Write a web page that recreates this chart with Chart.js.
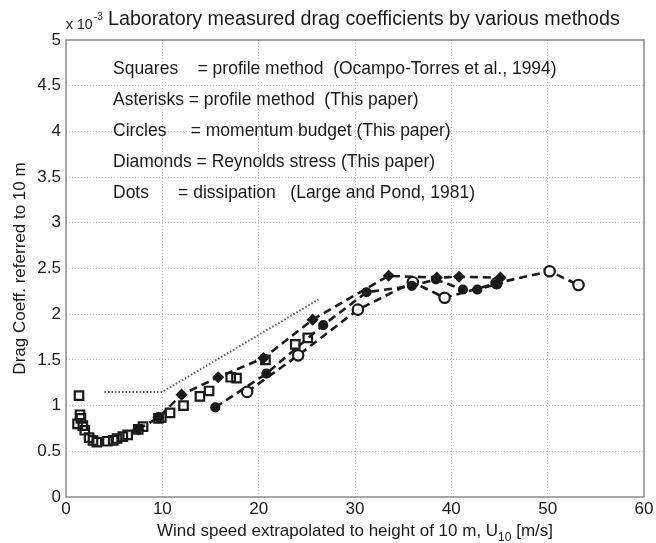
<!DOCTYPE html>
<html>
<head>
<meta charset="utf-8">
<script src="https://cdn.jsdelivr.net/npm/chart.js@4.4.1/dist/chart.umd.min.js"></script>
<style>
  html, body { margin: 0; padding: 0; background: #fff; }
  #wrap { width: 656px; height: 543px; position: relative; }
</style>
</head>
<body>
<div id="wrap"><canvas id="cd-canvas" width="656" height="543"></canvas></div>
<script>
// squares = profile method (Ocampo-Torres et al., 1994)
const squaresX = [1.35, 1.45, 1.55, 1.2, 1.75, 1.95, 2.4, 2.8, 3.2, 4.3, 4.9, 5.3, 5.9, 6.4, 7.5, 8.0, 9.6, 9.9, 10.8, 12.2, 13.9, 14.85, 17.1, 17.7, 20.7, 23.8, 25.1];
const squaresY = [1.11, 0.90, 0.86, 0.80, 0.78, 0.73, 0.65, 0.62, 0.60, 0.61, 0.62, 0.64, 0.66, 0.68, 0.74, 0.77, 0.86, 0.87, 0.92, 1.00, 1.10, 1.16, 1.31, 1.30, 1.50, 1.67, 1.74];
// asterisks = profile method (this paper)
const asteriskX = [7.5, 9.6, 12.0, 15.8, 20.5, 25.6, 33.5, 38.5, 40.8, 45.1];
const asteriskY = [0.74, 0.87, 1.12, 1.31, 1.52, 1.94, 2.42, 2.40, 2.41, 2.40];
// diamonds = reynolds stress
const diamondX = [15.5, 20.8, 26.7, 31.2, 35.9, 38.4, 41.2, 42.7, 44.7];
const diamondY = [0.98, 1.35, 1.88, 2.24, 2.31, 2.38, 2.27, 2.27, 2.33];
// circles = momentum budget
const circleX = [18.8, 24.1, 30.3, 36.0, 39.3, 44.7, 50.2, 53.2];
const circleY = [1.15, 1.55, 2.05, 2.35, 2.18, 2.34, 2.47, 2.32];
// dots = dissipation (Large and Pond, 1981)
const dotsX = [4, 10, 26.2];
const dotsY = [1.15, 1.15, 2.16];

const xTicks = [0, 10, 20, 30, 40, 50, 60];
const yTicks = [0, 0.5, 1, 1.5, 2, 2.5, 3, 3.5, 4, 4.5, 5];

const legendLines = [
  'Squares    = profile method  (Ocampo-Torres et al., 1994)',
  'Asterisks = profile method  (This paper)',
  'Circles     = momentum budget (This paper)',
  'Diamonds = Reynolds stress (This paper)',
  'Dots      = dissipation   (Large and Pond, 1981)'
];

const FONT = '"Liberation Sans", Arial, Helvetica, sans-serif';
const INK = '#1a1a1a';

function pts(xs, ys) {
  return xs.map((x, i) => ({ x: x, y: ys[i] }));
}

// pick a font size so the text is about as wide as in the scan
function fitSize(ctx, text, width) {
  ctx.font = '20px ' + FONT;
  return 20 * width / ctx.measureText(text).width;
}

// text that chart.js can't place the way matlab does
const textPlugin = {
  id: 'textPlugin',
  afterDraw(chart) {
    const ctx = chart.ctx;
    const area = chart.chartArea;
    ctx.save();
    ctx.fillStyle = INK;
    ctx.textBaseline = 'alphabetic';
    ctx.textAlign = 'left';

    // title
    const title = 'Laboratory measured drag coefficients by various methods';
    const ts = Math.min(fitSize(ctx, title, 512), 20);
    ctx.font = ts + 'px ' + FONT;
    ctx.fillText(title, 108, 25);

    // exponent
    ctx.font = '14px ' + FONT;
    ctx.fillText('x 10', 66, 29);
    ctx.font = '10px ' + FONT;
    ctx.fillText('-3', 94, 20);

    // legend block
    const ls = Math.min(fitSize(ctx, legendLines[0], 444), 18);
    ctx.font = ls + 'px ' + FONT;
    legendLines.forEach((t, i) => {
      ctx.fillText(t, 113, 74 + i * 31);
    });

    // x axis title with subscript
    ctx.font = '17px ' + FONT;
    const a = 'Wind speed extrapolated to height of 10 m, U';
    const wA = ctx.measureText(a).width;
    ctx.font = '12px ' + FONT;
    const wS = ctx.measureText('10').width;
    ctx.font = '17px ' + FONT;
    const b = ' [m/s]';
    const wB = ctx.measureText(b).width;
    const total = wA + wS + wB;
    let x0 = (area.left + area.right) / 2 - total / 2;
    ctx.fillText(a, x0, 536);
    ctx.font = '12px ' + FONT;
    ctx.fillText('10', x0 + wA, 541);
    ctx.font = '17px ' + FONT;
    ctx.fillText(b, x0 + wA + wS, 536);

    // box
    ctx.strokeStyle = '#8c8c8c';
    ctx.lineWidth = 1.5;
    ctx.strokeRect(area.left, area.top, area.right - area.left, area.bottom - area.top);
    ctx.restore();
  }
};

const dashed = [8, 5];

new Chart('cd-canvas', {
  type: 'scatter',
  data: {
    datasets: [
      {
        label: 'Dots',
        data: pts(dotsX, dotsY),
        showLine: true,
        borderColor: '#5a5a5a',
        borderWidth: 2,
        borderDash: [1.5, 2],
        pointRadius: 0,
        fill: false
      },
      {
        label: 'Squares',
        data: pts(squaresX, squaresY),
        showLine: false,
        pointStyle: 'rect',
        pointRadius: 6,
        borderColor: INK,
        borderWidth: 2.2,
        backgroundColor: 'rgba(255,255,255,0)'
      },
      {
        label: 'Asterisks',
        data: pts(asteriskX, asteriskY),
        showLine: true,
        borderColor: INK,
        borderWidth: 2.6,
        borderDash: dashed,
        pointStyle: 'rectRot',
        pointRadius: 5,
        pointBorderColor: INK,
        pointBackgroundColor: INK,
        pointBorderWidth: 1.5,
        fill: false
      },
      {
        label: 'Diamonds',
        data: pts(diamondX, diamondY),
        showLine: true,
        borderColor: INK,
        borderWidth: 2.6,
        borderDash: dashed,
        pointStyle: 'circle',
        pointRadius: 3.8,
        pointBorderColor: INK,
        pointBackgroundColor: INK,
        fill: false
      },
      {
        label: 'Circles',
        data: pts(circleX, circleY),
        showLine: true,
        borderColor: INK,
        borderWidth: 2.6,
        borderDash: dashed,
        pointStyle: 'circle',
        pointRadius: 5.2,
        pointBorderColor: INK,
        pointBackgroundColor: '#fff',
        pointBorderWidth: 2.2,
        fill: false
      }
    ]
  },
  options: {
    responsive: false,
    animation: false,
    layout: { padding: { top: 40, right: 12, left: 10, bottom: 0 } },
    plugins: {
      legend: { display: false },
      tooltip: { enabled: false },
      title: { display: false }
    },
    scales: {
      x: {
        type: 'linear',
        min: 0,
        max: 60,
        afterBuildTicks: (s) => { s.ticks = xTicks.map(v => ({ value: v })); },
        afterFit: (s) => { s.height = 46; },
        border: { display: false, dash: [1, 2] },
        grid: {
          color: '#c4c4c4',
          lineWidth: 1,
          tickLength: 0
        },
        ticks: {
          color: INK,
          font: { family: FONT, size: 17 },
          padding: 2,
          maxRotation: 0
        }
      },
      y: {
        type: 'linear',
        min: 0,
        max: 5,
        afterBuildTicks: (s) => { s.ticks = yTicks.map(v => ({ value: v })); },
        afterFit: (s) => { s.width = 56; },
        border: { display: false, dash: [1, 2] },
        grid: {
          color: '#c4c4c4',
          lineWidth: 1,
          tickLength: 0
        },
        title: {
          display: true,
          text: 'Drag Coeff. referred to 10 m',
          color: INK,
          font: { family: FONT, size: 17 },
          padding: { top: 0, bottom: 0 }
        },
        ticks: {
          color: INK,
          font: { family: FONT, size: 17 },
          padding: 5,
          callback: (v) => String(v)
        }
      }
    }
  },
  plugins: [textPlugin]
});
</script>
</body>
</html>
